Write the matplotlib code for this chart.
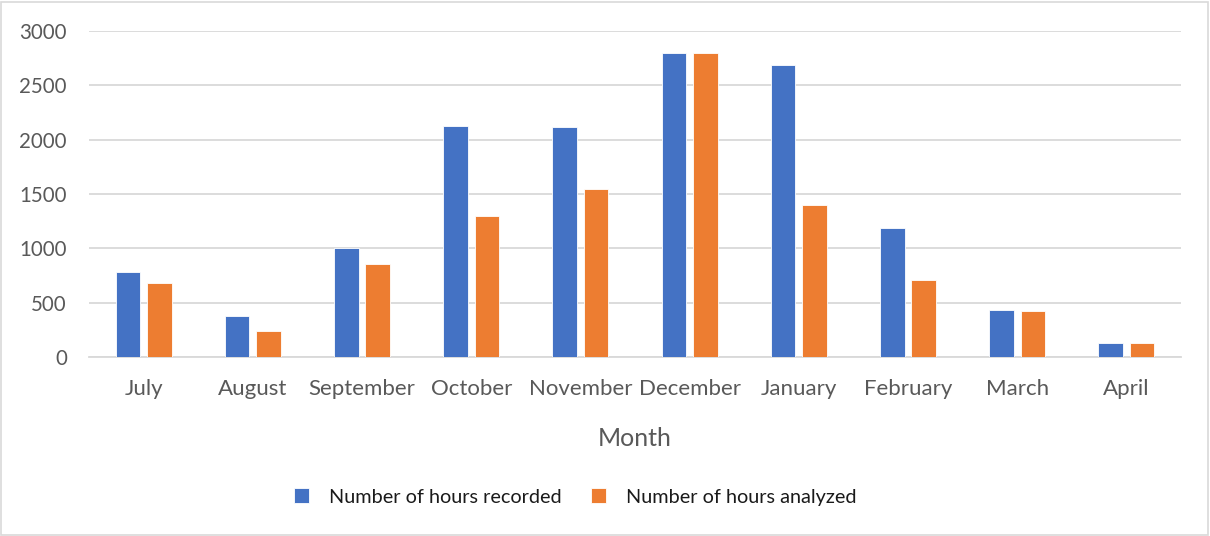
import numpy as np
import matplotlib.pyplot as plt
from matplotlib.patches import Rectangle

# data
months = ["July", "August", "September", "October", "November",
          "December", "January", "February", "March", "April"]
hours_recorded = [780, 380, 1000, 2130, 2120, 2800, 2685, 1185, 430, 130]
hours_analyzed = [685, 235, 860, 1300, 1550, 2800, 1400, 705, 425, 130]

plt.rcParams['font.family'] = ['Lato', 'DejaVu Sans']

fig = plt.figure(figsize=(12.1, 5.36), dpi=100)
ax = fig.add_axes([89 / 1210, 1 - 357 / 536, 1092 / 1210, 326 / 536])

x = np.arange(len(months))
w = 0.224
off = 0.144
ax.bar(x - off, hours_recorded, w, color="#4472C4", edgecolor="white",
       linewidth=0.6, label="Number of hours recorded", zorder=3)
ax.bar(x + off, hours_analyzed, w, color="#ED7D31", edgecolor="white",
       linewidth=0.6, label="Number of hours analyzed", zorder=3)

ax.set_xlim(-0.5, len(months) - 0.5)
ax.set_ylim(0, 3000)
ax.set_yticks(range(0, 3001, 500))
ax.set_xticks(x)
ax.set_xticklabels(months)
ax.grid(axis="y", color="#d9d9d9", linewidth=1.3, zorder=0)
ax.tick_params(axis="both", length=0, colors="#595959")
ax.tick_params(axis="y", pad=16, labelsize=14.8)
ax.tick_params(axis="x", pad=16, labelsize=16)
for s in ["top", "right", "left"]:
    ax.spines[s].set_visible(False)
ax.spines["bottom"].set_color("#d9d9d9")
ax.spines["bottom"].set_linewidth(1.3)

ax.set_xlabel("Month", fontsize=18, color="#595959", labelpad=20)

fig.legend(loc="center", bbox_to_anchor=(575 / 1210, 1 - 497 / 536),
           ncol=2, frameon=False, fontsize=14.3, handlelength=0.75,
           handleheight=0.75, handletextpad=1.0, columnspacing=1.5,
           labelcolor="#1a1a1a")

fig.patches.append(Rectangle((0.001, 0.002), 0.997, 0.995, transform=fig.transFigure,
                             fill=False, edgecolor="#d9d9d9", linewidth=1.2))

fig.savefig("out.png", dpi=100)
